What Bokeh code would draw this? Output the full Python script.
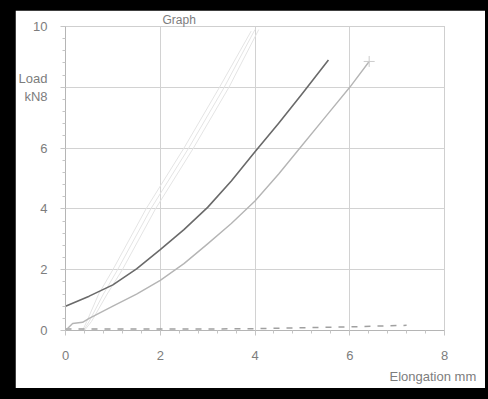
from bokeh.plotting import figure
from bokeh.models import FixedTicker, Range1d, GlobalInlineStyleSheet, Title
from bokeh.embed import file_html
from bokeh.resources import INLINE

# ---- data ----
x_ticks = [0, 2, 4, 6, 8]
y_ticks = [0, 2, 4, 6, 8, 10]
y_tick_labels = {8: "Load\nkN8"}
title_text = "Graph"
x_label = "Elongation mm"

dark_x = [0.0, 0.5, 1.0, 1.5, 2.0, 2.5, 3.0, 3.5, 4.0, 4.5, 5.0, 5.55]
dark_y = [0.8, 1.13, 1.5, 2.03, 2.66, 3.32, 4.05, 4.92, 5.88, 6.82, 7.8, 8.9]

light_x = [0.0, 0.15, 0.36, 0.5, 1.0, 1.5, 2.0, 2.5, 3.0, 3.5, 4.0, 4.5, 5.0, 5.5, 6.0, 6.41]
light_y = [0.0, 0.23, 0.27, 0.4, 0.8, 1.2, 1.65, 2.2, 2.85, 3.52, 4.26, 5.15, 6.1, 7.05, 8.0, 8.85]

faint1_x = [0.36, 0.45, 0.7, 1.0, 1.7, 2.5, 3.25, 3.92]
faint1_y = [0.0, 0.3, 1.2, 2.0, 4.0, 6.0, 8.0, 9.85]
faint2_x = [0.38, 0.5, 0.8, 1.1, 1.8, 2.6, 3.35, 4.0]
faint2_y = [0.0, 0.3, 1.2, 2.0, 4.0, 6.0, 8.0, 9.9]
faint3_x = [0.4, 0.55, 0.88, 1.2, 1.9, 2.7, 3.45, 4.08]
faint3_y = [0.0, 0.3, 1.2, 2.0, 4.0, 6.0, 8.0, 9.9]

dash_x = [0.0, 1.0, 2.0, 3.0, 4.0, 5.0, 6.0, 7.2]
dash_y = [0.05, 0.05, 0.05, 0.05, 0.06, 0.09, 0.12, 0.17]

FONT = "Liberation Sans"
TXT = "#7d7d7d"

p = figure(width=470, height=378, output_backend="svg", toolbar_location=None,
           x_range=Range1d(0, 8), y_range=Range1d(0, 10),
           min_border_left=48, min_border_right=41, min_border_top=12, min_border_bottom=58)
p.stylesheets = [GlobalInlineStyleSheet(css="body{background:#000;margin:10px 0 0 15px;}")]
p.background_fill_color = "white"
p.border_fill_color = "white"
p.outline_line_color = "#cfcfcf"
p.outline_line_width = 1

p.add_layout(Title(text=title_text, align="left", offset=97, text_font=FONT,
                   text_font_size="12px", text_font_style="normal",
                   text_color=TXT, standoff=0), "above")
p.add_layout(Title(text=x_label, align="left", offset=324, text_font=FONT,
                   text_font_size="13px", text_font_style="normal",
                   text_color=TXT, standoff=8), "below")

minor = [round(0.4 * i, 2) for i in range(0, 26)]
p.xaxis.ticker = FixedTicker(ticks=x_ticks, minor_ticks=[m for m in minor if m <= 8])
p.yaxis.ticker = FixedTicker(ticks=y_ticks, minor_ticks=[m for m in minor if m <= 10])
p.yaxis.major_label_overrides = y_tick_labels

for ax in (p.xaxis, p.yaxis):
    ax.axis_line_color = "#b5b5b5"
    ax.major_tick_line_color = "#c5c5c5"
    ax.minor_tick_line_color = "#c5c5c5"
    ax.major_tick_out = 5
    ax.major_tick_in = 0
    ax.minor_tick_out = 3
    ax.minor_tick_in = 0
    ax.major_label_text_font = FONT
    ax.major_label_text_font_size = "13px"
    ax.major_label_text_color = TXT
p.yaxis.major_label_standoff = 13
p.xaxis.major_label_standoff = 15

p.grid.grid_line_color = "#d2d2d2"
p.grid.grid_line_width = 1
p.xgrid.ticker = FixedTicker(ticks=x_ticks)
p.ygrid.ticker = FixedTicker(ticks=y_ticks)

for fx, fy in ((faint1_x, faint1_y), (faint2_x, faint2_y), (faint3_x, faint3_y)):
    p.line(fx, fy, line_color="#e4e4e4", line_width=1)

p.line(dash_x, dash_y, line_color="#a0a0a0", line_width=1.5, line_dash="6 7")
p.line(light_x, light_y, line_color="#b5b5b5", line_width=1.4, line_join="round")
p.line(dark_x, dark_y, line_color="#6a6a6a", line_width=1.6, line_join="round")
p.scatter([light_x[-1]], [light_y[-1]], marker="cross", size=11, line_color="#cccccc", line_width=1)

open("out.html", "w").write(file_html(p, INLINE))
